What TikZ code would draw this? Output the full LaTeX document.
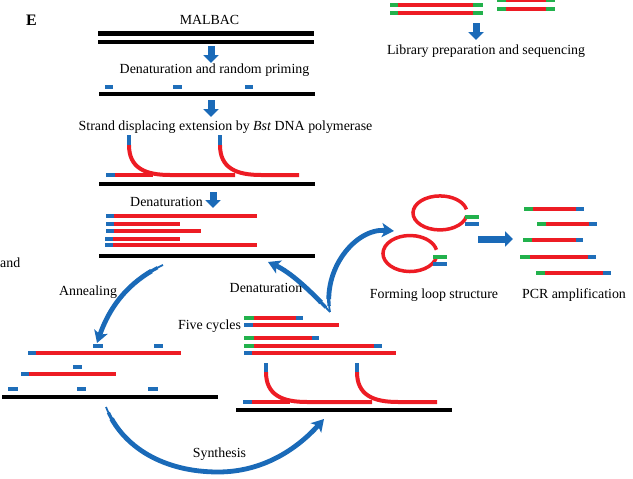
\documentclass[tikz,border=0pt]{standalone}
\usepackage{fontspec}
\setmainfont{Liberation Serif}
\usetikzlibrary{arrows.meta}
\definecolor{sred}{RGB}{237,28,36}
\definecolor{sblue}{RGB}{31,110,185}
\definecolor{sgreen}{RGB}{34,177,76}
\definecolor{ablue}{RGB}{26,106,184}
\newcommand\dnapiece[4]{\draw[seg,#1] (#2,#4) -- (#3,#4);}
\begin{document}
\begin{tikzpicture}[x=1pt,y=-1pt,
  lbl/.style={font=\fontsize{13.9}{16}\selectfont, inner sep=0pt, anchor=base},
  dna/.style={line width=4.5pt, black},
  seg/.style={line width=4pt},
  loopline/.style={line width=3.5pt, sred},
  blockarrow/.style={ablue, line width=7pt, -{Triangle[width=15pt,length=8pt]}},
  curvearrow/.style={ablue, line width=4.8pt, dash pattern=on 0pt off 13pt on 3000pt, -{Stealth[width=14pt,length=12pt,inset=3pt]}},
  taperA/.style={ablue, line width=1.8pt, shorten >=10pt},
  taperB/.style={ablue, line width=3.3pt, dash pattern=on 0pt off 6pt on 3000pt, shorten >=10pt},
]
\useasboundingbox (0,0) rectangle (633,479);

% ---------- labels ----------
\node[lbl, anchor=base west, font=\fontsize{16}{18}\selectfont\bfseries] (E) at (26,26) {E};
\node[lbl] (malbac) at (209.5,24) {MALBAC};
\node[lbl] (denrp) at (214.5,74) {Denaturation and random priming};
\node[lbl] (sde) at (225.5,130) {Strand displacing extension by \textit{Bst} DNA polymerase};
\node[lbl] (den1) at (166.5,206) {Denaturation};
\node[lbl, anchor=base west] (andw) at (0,267) {and};
\node[lbl] (anneal) at (88,295) {Annealing};
\node[lbl] (den2) at (266,292) {Denaturation};
\node[lbl] (five) at (209.5,329) {Five cycles};
\node[lbl] (synth) at (219.5,457) {Synthesis};
\node[lbl] (lib) at (486,54) {Library preparation and sequencing};
\node[lbl] (loopl) at (434,298) {Forming loop structure};
\node[lbl] (pcrl) at (574,298) {PCR amplification};

% ---------- top left: MALBAC ----------
\draw[dna] (98,33.5) -- (314,33.5);
\draw[dna, line width=4pt] (98,42) -- (314,42);
\draw[blockarrow] (211,46) -- (211,63);

\dnapiece{sblue}{105}{113}{87}
\dnapiece{sblue}{173}{182}{87}
\dnapiece{sblue}{245}{253}{87}
\draw[dna] (99,94) -- (315,94);
\draw[blockarrow] (211,100) -- (211,117);

% strand displacement
\draw[seg,sred] (129,145) .. controls (129,168) and (145,175) .. (170,175) -- (235,175);
\draw[seg,sred] (220,145) .. controls (220,168) and (236,175) .. (261,175) -- (299,175);
\dnapiece{sblue}{106}{115}{175}
\dnapiece{sred}{115}{153}{175}
\draw[seg,sblue] (129,135) -- (129,145);
\draw[seg,sblue] (220,135) -- (220,145);
\draw[dna] (99,184) -- (315,184);
\draw[blockarrow] (213,192) -- (213,208);

% denatured stack
\dnapiece{sblue}{106}{114}{215.7}\dnapiece{sred}{114}{257}{215.7}
\dnapiece{sblue}{106}{114}{224}\dnapiece{sred}{114}{180}{224}
\dnapiece{sblue}{106}{114}{231}\dnapiece{sred}{114}{201}{231}
\dnapiece{sblue}{105}{113}{238.5}\dnapiece{sred}{113}{180}{238.5}
\dnapiece{sblue}{105}{113}{244.5}\dnapiece{sred}{113}{257}{244.5}
\draw[dna] (99,256) -- (315,256);

% ---------- bottom left: annealing ----------
\dnapiece{sblue}{93}{103}{346}
\dnapiece{sblue}{154}{163}{346}
\dnapiece{sblue}{28}{36}{353}\dnapiece{sred}{36}{181}{353}
\dnapiece{sblue}{73}{82}{367}
\dnapiece{sblue}{21}{29}{374}\dnapiece{sred}{29}{116}{374}
\dnapiece{sblue}{8}{18}{389}
\dnapiece{sblue}{77}{86}{389}
\dnapiece{sblue}{148}{158}{389}
\draw[dna] (2,397) -- (218,397);

% ---------- five cycles ----------
\dnapiece{sgreen}{244}{254}{318}\dnapiece{sred}{254}{296}{318}\dnapiece{sblue}{296}{303}{318}
\dnapiece{sblue}{244}{253}{325}\dnapiece{sred}{253}{339}{325}
\dnapiece{sgreen}{244}{254}{338}\dnapiece{sred}{254}{312}{338}\dnapiece{sblue}{312}{319}{338}
\dnapiece{sgreen}{244}{254}{346}\dnapiece{sred}{254}{374}{346}\dnapiece{sblue}{374}{382}{346}
\dnapiece{sblue}{244}{252}{353}\dnapiece{sred}{252}{396}{353}

\draw[seg,sred] (266,372) .. controls (266,395) and (282,402) .. (307,402) -- (372,402);
\draw[seg,sred] (357,372) .. controls (357,395) and (373,402) .. (398,402) -- (437,402);
\dnapiece{sblue}{243}{252}{402}\dnapiece{sred}{252}{290}{402}
\draw[seg,sblue] (266,363) -- (266,372);
\draw[seg,sblue] (357,363) -- (357,372);
\draw[dna] (236,410) -- (452,410);

% ---------- top right: library ----------
\dnapiece{sgreen}{390}{398}{4.5}\dnapiece{sred}{398}{473}{4.5}\dnapiece{sgreen}{473}{483}{4.5}
\dnapiece{sgreen}{390}{398}{13.3}\dnapiece{sred}{398}{473}{13.3}\dnapiece{sgreen}{473}{483}{13.3}
\dnapiece{sgreen}{497}{506}{0.3}\dnapiece{sred}{506}{546}{0.3}\dnapiece{sgreen}{546}{555}{0.3}
\dnapiece{sgreen}{497}{506}{9.2}\dnapiece{sred}{506}{546}{9.2}\dnapiece{sgreen}{546}{555}{9.2}
\draw[blockarrow] (476,23) -- (476,40);

% ---------- loops ----------
\draw[loopline] (440,220) ++(12:27pt and 17pt) arc[start angle=12, end angle=348, x radius=27, y radius=17];
\dnapiece{sgreen}{465}{479}{217}
\dnapiece{sblue}{465}{479}{224}
\draw[loopline] (410,261) ++(12:27pt and 18pt) arc[start angle=12, end angle=348, x radius=27, y radius=18];
\dnapiece{sgreen}{433}{447}{257}
\dnapiece{sblue}{433}{447}{264}
\draw[blockarrow] (478,239) -- (513,239);

% ---------- PCR ----------
\dnapiece{sgreen}{524}{533}{209}\dnapiece{sred}{533}{576}{209}\dnapiece{sblue}{576}{584}{209}
\dnapiece{sgreen}{537}{546}{224}\dnapiece{sred}{546}{589}{224}\dnapiece{sblue}{589}{597}{224}
\dnapiece{sgreen}{523}{532}{240}\dnapiece{sred}{532}{576}{240}\dnapiece{sblue}{576}{583}{240}
\dnapiece{sgreen}{520}{530}{257}\dnapiece{sred}{530}{588}{257}\dnapiece{sblue}{588}{596}{257}
\dnapiece{sgreen}{536}{545}{273}\dnapiece{sred}{545}{603}{273}\dnapiece{sblue}{603}{611}{273}

% ---------- curved arrows (tapered at their start) ----------
\coordinate (annS) at (163,265);
\coordinate (annE) at (97,343);
\coordinate (cyc) at (330,312);
\coordinate (denE) at (268,262);
\coordinate (loopE) at (394,231);
\coordinate (synS) at (106,407);
\coordinate (synM) at (218,472);
\coordinate (synE) at (324,419);
\foreach \st in {taperA,taperB,curvearrow}{
  \draw[\st] (annS) .. controls (135,278) and (112,300) .. (annE);
  \draw[\st] (cyc) .. controls (310,290) and (290,272) .. (denE);
  \draw[\st] (cyc) .. controls (322,270) and (355,228) .. (loopE);
  \draw[\st] (synS) .. controls (122,448) and (165,472) .. (synM) .. controls (262,472) and (296,450) .. (synE);
}
\end{tikzpicture}
\end{document}
